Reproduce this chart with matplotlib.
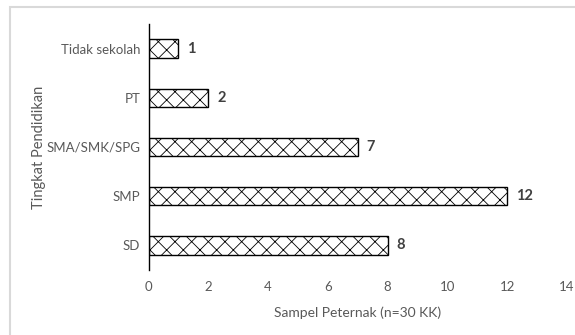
import matplotlib
matplotlib.use("Agg")
import matplotlib.pyplot as plt
from matplotlib.patches import Rectangle

plt.rcParams['font.family'] = ['Lato', 'DejaVu Sans']
plt.rcParams['hatch.linewidth'] = 0.6

categories = ["SD", "SMP", "SMA/SMK/SPG", "PT", "Tidak sekolah"]
counts = [8, 12, 7, 2, 1]
xticks = [0, 2, 4, 6, 8, 10, 12, 14]

fig = plt.figure(figsize=(5.75, 3.35), dpi=100)
ax = fig.add_axes([148.5 / 575, 1 - 270 / 335, 418.5 / 575, 246 / 335])

# light frame around the chart area
frame = Rectangle((10 / 575, -0.05), 1.2, 1 - 7 / 335 + 0.05, transform=fig.transFigure,
                  fill=False, edgecolor="#d9d9d9", linewidth=1.5, clip_on=False)
fig.patches.append(frame)

ypos = list(range(len(categories)))
ax.barh(ypos, counts, height=0.37, color="white", edgecolor="black",
        linewidth=1.0, hatch="xx")

for y, v in zip(ypos, counts):
    ax.text(v + 0.3, y, str(v), va="center", ha="left", fontsize=10.5,
            fontweight="bold", color="#404040")

ax.set_xlim(0, 14)
ax.set_ylim(-0.5, 4.5)
ax.set_xticks(xticks)
ax.set_xticklabels([str(t) for t in xticks])
ax.set_yticks(ypos)
ax.set_yticklabels(categories)

for s in ["top", "right", "bottom"]:
    ax.spines[s].set_visible(False)
ax.spines["left"].set_color("black")
ax.spines["left"].set_linewidth(1.0)

ax.tick_params(axis="x", length=0, pad=8, labelsize=9.5, labelcolor="#595959")
ax.tick_params(axis="y", length=0, pad=6, labelsize=9.5, labelcolor="#595959")

ax.set_xlabel("Sampel Peternak (n=30 KK)", fontsize=10, color="#595959")
ax.set_ylabel("Tingkat Pendidikan", fontsize=10.5, color="#595959")
ax.xaxis.set_label_coords(0.5, -0.15)
ax.yaxis.set_label_coords(-0.245, 0.5)

fig.savefig("out.png", dpi=100)
